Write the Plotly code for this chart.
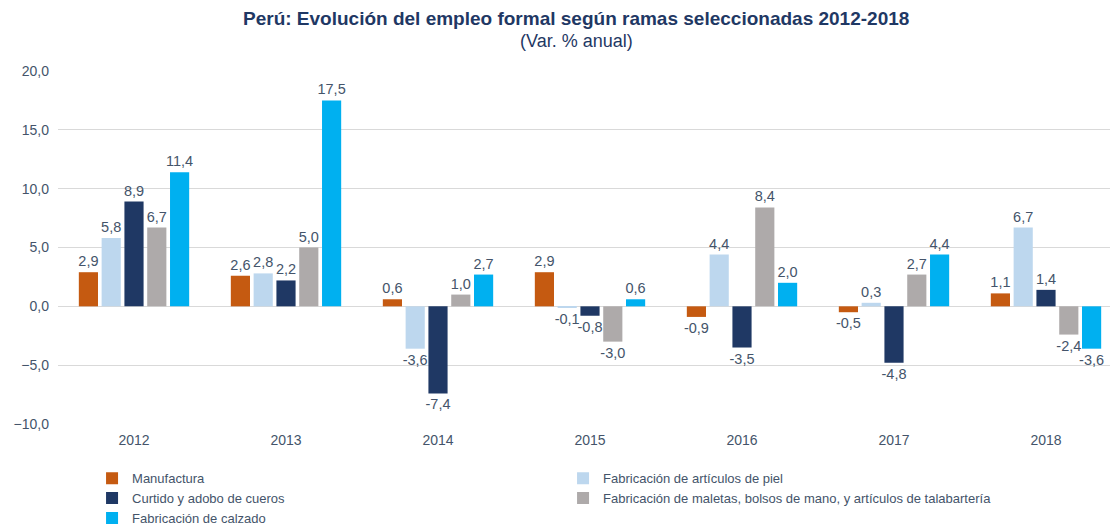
import plotly.graph_objects as go

years = ["2012", "2013", "2014", "2015", "2016", "2017", "2018"]

manufactura = [2.9, 2.6, 0.6, 2.9, -0.9, -0.5, 1.1]
piel = [5.8, 2.8, -3.6, -0.1, 4.4, 0.3, 6.7]
curtido = [8.9, 2.2, -7.4, -0.8, -3.5, -4.8, 1.4]
maletas = [6.7, 5.0, 1.0, -3.0, 8.4, 2.7, -2.4]
calzado = [11.4, 17.5, 2.7, 0.6, 2.0, 4.4, -3.6]

series = [
    ("Manufactura", manufactura, "#C55A11"),
    ("Fabricación de artículos de piel", piel, "#BDD7EE"),
    ("Curtido y adobo de cueros", curtido, "#1F3864"),
    ("Fabricación de maletas, bolsos de mano, y artículos de talabartería", maletas, "#AEAAAA"),
    ("Fabricación de calzado", calzado, "#00B0F0"),
]

TEXT_COLOR = "#44546A"

fig = go.Figure()
for name, vals, color in series:
    fig.add_trace(
        go.Bar(
            x=years, y=vals, name=name,
            marker=dict(color=color, line=dict(width=0)),
            text=[f"{v:.1f}".replace(".", ",") for v in vals],
            textposition="outside",
            textfont=dict(size=14.5, color=TEXT_COLOR),
            cliponaxis=False,
        )
    )

# title + subtitle as annotations so they sit exactly where the reference has them
fig.add_annotation(
    text="<b>Perú: Evolución del empleo formal según ramas seleccionadas 2012-2018</b>",
    xref="paper", yref="paper", x=0.487, y=1.148, xanchor="center", yanchor="middle",
    showarrow=False, font=dict(size=19, color="#1F3864"),
)
fig.add_annotation(
    text="(Var. % anual)",
    xref="paper", yref="paper", x=0.487, y=1.084, xanchor="center", yanchor="middle",
    showarrow=False, font=dict(size=18, color="#1F3864"),
)

# page body has an 8px default margin, so margins are trimmed by 8px
fig.update_layout(
    width=1118, height=526,
    font=dict(family="Liberation Sans, Arial, sans-serif", size=14, color=TEXT_COLOR),
    barmode="group",
    bargap=0.25,
    bargroupgap=0.16,
    plot_bgcolor="white",
    paper_bgcolor="white",
    margin=dict(l=50, r=4, t=63, b=110, autoexpand=False),
    showlegend=True,
    legend=dict(
        orientation="h", x=0.032, xanchor="left", y=-0.111, yanchor="top",
        entrywidth=426, entrywidthmode="pixels",
        font=dict(size=13, color=TEXT_COLOR),
        tracegroupgap=0,
    ),
    uniformtext=dict(minsize=14.5, mode="show"),
    separators=",.",
)
fig.update_yaxes(
    range=[-10, 20], dtick=5, tickformat=".1f",
    showgrid=True, gridcolor="#D9D9D9", gridwidth=1,
    zeroline=True, zerolinecolor="#D9D9D9", zerolinewidth=1,
    showline=False, ticks="", ticklabelstandoff=8,
    tickfont=dict(size=14, color=TEXT_COLOR),
)
fig.update_xaxes(
    showline=False, ticks="", ticklabelstandoff=6,
    tickfont=dict(size=14, color=TEXT_COLOR),
)

fig.write_html("out.html")
